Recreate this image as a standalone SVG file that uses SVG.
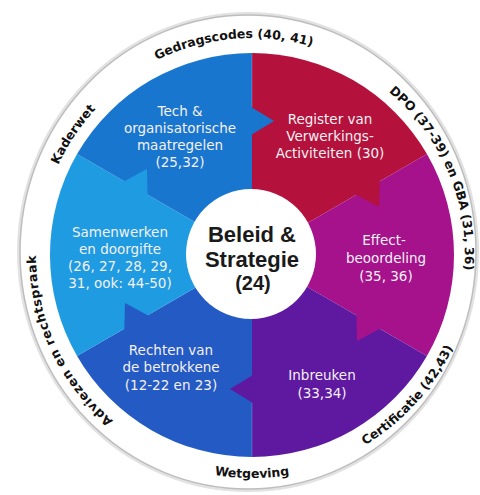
<svg xmlns="http://www.w3.org/2000/svg" width="480" height="495" viewBox="0 0 480 495">
  <defs>
    <style>
      .seg-text { font-family: "DejaVu Sans", "Liberation Sans", sans-serif; font-size: 13.5px; fill: #f4f0f4; text-anchor: middle; }
      .ring-text { font-family: "DejaVu Sans", "Liberation Sans", sans-serif; font-size: 12.5px; font-weight: bold; fill: #111111; }
      .core-text { font-family: "Liberation Sans", "DejaVu Sans", sans-serif; font-weight: bold; fill: #1a1a1a; text-anchor: middle; }
      .div { stroke: #ffffff; stroke-opacity: 0.25; stroke-width: 0.8; fill: none; }
    </style>
    <path id="arc-ged" d="M35.8,273.9 A217,217 0 0 1 468.2,236.1"/>
    <path id="arc-kad" d="M130.7,434.9 A217,217 0 0 1 373.3,75.1"/>
    <path id="arc-dpo" d="M168.8,58.9 A213,213 0 0 1 335.2,451.1"/>
    <path id="arc-adv" d="M343.3,450.8 A216,216 0 0 1 160.7,59.2"/>
    <path id="arc-wet" d="M29,255 A223,223 0 0 0 475,255"/>
    <path id="arc-cer" d="M100.8,422.9 A226,226 0 0 0 403.2,87.1"/>
  </defs>

  <rect width="480" height="495" fill="#ffffff"/>

  <!-- outer ring -->
  <g id="ring">
    <ellipse cx="248" cy="252" rx="229" ry="238" fill="#ffffff" stroke="#e2e2e2" stroke-width="4"/>
    <ellipse cx="248" cy="252" rx="228" ry="237" fill="#ffffff" stroke="#bdbdbd" stroke-width="1.5"/>
  </g>

  <!-- segments -->
  <g id="seg-register">
    <path d="M252,255 L252,53 A202,202 0 0 1 426.94,154 Z" fill="#b4123c"/>
  </g>
  <g id="seg-effect">
    <path d="M252,255 L426.94,154 A202,202 0 0 1 426.94,356 Z" fill="#a5128c"/>
  </g>
  <g id="seg-inbreuken">
    <path d="M252,255 L426.94,356 A202,202 0 0 1 252,457 Z" fill="#5e19a0"/>
  </g>
  <g id="seg-rechten">
    <path d="M252,255 L252,457 A202,202 0 0 1 77.06,356 Z" fill="#235ac3"/>
  </g>
  <g id="seg-samenwerken">
    <path d="M252,255 L77.06,356 A202,202 0 0 1 77.06,154 Z" fill="#1e9be1"/>
  </g>
  <g id="seg-tech">
    <path d="M252,255 L77.06,154 A202,202 0 0 1 252,53 Z" fill="#1976ce"/>
  </g>

  <!-- arrow tips (each segment pushes clockwise into the next) -->
  <g id="connectors">
    <polygon points="251,107 251,135 274,121" fill="#1976ce"/>
    <polygon points="379.67,180.13 355.42,194.13 379.04,207.05" fill="#b4123c"/>
    <polygon points="380.67,328.13 356.42,314.13 357.04,341.05" fill="#a5128c"/>
    <polygon points="253,403 253,375 230,389" fill="#5e19a0"/>
    <polygon points="124.33,329.87 148.58,315.87 124.96,302.95" fill="#235ac3"/>
    <polygon points="123.33,181.87 147.58,195.87 146.96,168.95" fill="#1e9be1"/>
    <line class="div" x1="252" y1="53" x2="252" y2="107"/>
    <line class="div" x1="252" y1="457" x2="252" y2="403"/>
  </g>

  <!-- segment labels -->
  <g id="label-tech">
    <text class="seg-text" x="180" y="116">Tech &amp;</text>
    <text class="seg-text" x="180" y="133">organisatorische</text>
    <text class="seg-text" x="180" y="150">maatregelen</text>
    <text class="seg-text" x="180" y="167">(25,32)</text>
  </g>
  <g id="label-register">
    <text class="seg-text" x="330" y="124">Register van</text>
    <text class="seg-text" x="330" y="141">Verwerkings-</text>
    <text class="seg-text" x="330" y="158">Activiteiten (30)</text>
  </g>
  <g id="label-effect">
    <text class="seg-text" x="384" y="245">Effect-</text>
    <text class="seg-text" x="386" y="263">beoordeling</text>
    <text class="seg-text" x="386" y="281">(35, 36)</text>
  </g>
  <g id="label-inbreuken">
    <text class="seg-text" x="322" y="380">Inbreuken</text>
    <text class="seg-text" x="322" y="398">(33,34)</text>
  </g>
  <g id="label-rechten">
    <text class="seg-text" x="171" y="355">Rechten van</text>
    <text class="seg-text" x="171" y="372">de betrokkene</text>
    <text class="seg-text" x="171" y="390">(12-22 en 23)</text>
  </g>
  <g id="label-samenwerken">
    <text class="seg-text" x="120" y="237">Samenwerken</text>
    <text class="seg-text" x="120" y="254">en doorgifte</text>
    <text class="seg-text" x="120" y="271">(26, 27, 28, 29,</text>
    <text class="seg-text" x="120" y="288">31, ook: 44-50)</text>
  </g>

  <!-- centre -->
  <g id="core">
    <circle cx="251" cy="254" r="65" fill="#ffffff"/>
    <text class="core-text" x="252" y="242" font-size="22">Beleid &amp;</text>
    <text class="core-text" x="252" y="267" font-size="22">Strategie</text>
    <text class="core-text" x="253" y="290" font-size="20">(24)</text>
  </g>

  <!-- ring labels -->
  <g id="ring-labels">
    <text class="ring-text"><textPath href="#arc-ged" startOffset="50%" text-anchor="middle">Gedragscodes (40, 41)</textPath></text>
    <text class="ring-text"><textPath href="#arc-kad" startOffset="50%" text-anchor="middle">Kaderwet</textPath></text>
    <text class="ring-text"><textPath href="#arc-dpo" startOffset="50%" text-anchor="middle">DPO (37-39) en GBA (31, 36)</textPath></text>
    <text class="ring-text" font-size="13" letter-spacing="0.6"><textPath href="#arc-adv" startOffset="50%" text-anchor="middle">Adviezen en rechtspraak</textPath></text>
    <text class="ring-text"><textPath href="#arc-wet" startOffset="50%" text-anchor="middle">Wetgeving</textPath></text>
    <text class="ring-text" font-size="12"><textPath href="#arc-cer" startOffset="50%" text-anchor="middle">Certificatie (42,43)</textPath></text>
  </g>
</svg>
